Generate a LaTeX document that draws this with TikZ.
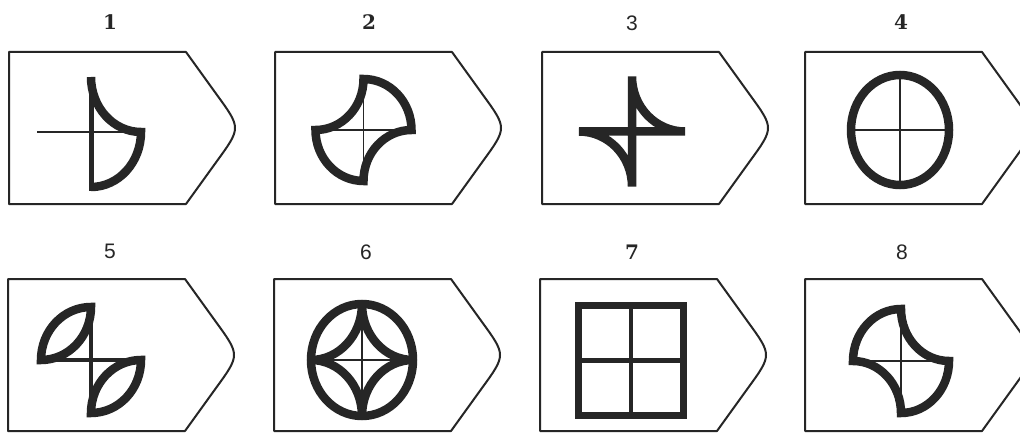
\documentclass[tikz,border=0pt]{standalone}
\usepackage{fontspec}
\setmainfont{DejaVu Serif}
\newfontfamily\sansdigits{Liberation Sans}
\usepackage{tikz}
\usetikzlibrary{calc}
\definecolor{inkgrey}{HTML}{262626}

\begin{document}
\begin{tikzpicture}[
  x=1pt,y=-1pt,
  every node/.style={inner sep=0pt,text=inkgrey},
  tag/.style={draw=inkgrey,line width=2pt,line join=round},
  petal/.style={draw=inkgrey,line width=8.5pt,line join=miter},
  hair/.style={draw=inkgrey,line width=1.8pt},
  crossbar/.style={draw=inkgrey,line width=4.5pt},
  serifno/.style={font=\fontsize{20}{20}\selectfont\bfseries},
  sansno/.style={font=\fontsize{21}{21}\selectfont\sansdigits},
  bulge/.style={start angle=#1,delta angle=90,x radius=\frx,y radius=\fry},
  hollow/.style={start angle=#1-90,delta angle=-90,x radius=\frx,y radius=\fry},
  hollowrev/.style={start angle=#1-180,delta angle=90,x radius=\frx,y radius=\fry}
]
\useasboundingbox[fill=white] (0,0) rectangle (1020,433);
\clip (0,0) rectangle (1020,433);

%% ---- tags ----
\foreach \l/\t in {9/52,275/52,542/52,805/52,8/279,274/279,540/279,805/279}{
  \draw[tag] (\l,\t) -- (\l+177,\t) -- (\l+208,\t+43)
    .. controls (\l+232,\t+76) .. (\l+208,\t+109) -- (\l+177,\t+152)
    -- (\l,\t+152) -- cycle;
}

%% ---- numbers ----
\node[serifno] (n1) at (110,22.5) {1};
\node[serifno] (n2) at (369,22.5) {2};
\node[sansno]  (n3) at (632,23.5) {3};
\node[serifno] (n4) at (901,22.5) {4};
\node[sansno]  (n5) at (110,251.5) {5};
\node[sansno]  (n6) at (366,252) {6};
\node[serifno] (n7) at (632,252) {7};
\node[sansno]  (n8) at (902,252) {8};

%% ---- centres ----
\coordinate (f1) at (91,132);
\coordinate (f2) at (363.5,130);
\coordinate (f3) at (632,131.5);
\coordinate (f4) at (900,130);
\coordinate (f5) at (91,360);
\coordinate (f6) at (362,360);
\coordinate (f7) at (631,360.5);
\coordinate (f8) at (901,361);

%% ---- figure 1 ----
\def\frx{50}\def\fry{55}
\draw[hair] (f1) ++(-54,0) -- ++(104,0);
\draw[crossbar,line width=5pt] (f1) ++(0,-\fry) -- ++(0,2*\fry+4);
\draw[petal] (f1) ++(0,-\fry) arc[hollow=270] arc[bulge=0];

%% ---- figure 2 ----
\def\frx{48}\def\fry{51}
\draw[hair] (f2) ++(-\frx,0) -- ++(2*\frx,0);
\draw[hair] (f2) ++(0,-\fry) -- ++(0,2*\fry);
\draw[petal] (f2) ++(0,-\fry) arc[bulge=270] arc[hollow=0]
  arc[bulge=90] arc[hollow=180] -- cycle;

%% ---- figure 3 ----
\def\frx{53}\def\fry{55}
\draw[petal] (f3) -- ++(0,-\fry) arc[hollow=270] -- cycle;
\draw[petal] (f3) -- ++(0,\fry) arc[hollow=90] -- cycle;

%% ---- figure 4 ----
\draw[hair] (f4) ++(-49,0) -- ++(98,0);
\draw[hair] (f4) ++(0,-55) -- ++(0,110);
\draw[petal] (f4) ellipse[x radius=49,y radius=55];

%% ---- figure 5 ----
\def\frx{50}\def\fry{53}
\draw[crossbar] (f5) ++(-\frx,0) -- ++(2*\frx,0);
\draw[crossbar] (f5) ++(0,-\fry) -- ++(0,2*\fry);
\draw[petal] (f5) ++(-\frx,0) arc[bulge=180] arc[hollowrev=180] -- cycle;
\draw[petal] (f5) ++(\frx,0) arc[bulge=0] arc[hollowrev=0] -- cycle;

%% ---- figure 6 ----
\def\frx{51}\def\fry{56}
\draw[hair] (f6) ++(-\frx,0) -- ++(2*\frx,0);
\draw[hair] (f6) ++(0,-\fry) -- ++(0,2*\fry);
\draw[petal] (f6) ellipse[x radius=\frx,y radius=\fry];
\draw[petal] (f6) ++(0,-\fry) arc[hollow=270] arc[hollow=0]
  arc[hollow=90] arc[hollow=180] -- cycle;

%% ---- figure 7 ----
\draw[crossbar] (f7) ++(-52.5,0) -- ++(105,0);
\draw[crossbar] (f7) ++(0,-55) -- ++(0,110);
\draw[petal,line width=7.5pt] (f7) ++(-52.5,-55) rectangle ++(105,110);

%% ---- figure 8 ----
\def\frx{48}\def\fry{52}
\draw[hair] (f8) ++(-\frx,0) -- ++(2*\frx,0);
\draw[hair] (f8) ++(0,-\fry) -- ++(0,2*\fry);
\draw[petal] (f8) ++(-\frx,0) arc[bulge=180] arc[hollow=270]
  arc[bulge=0] arc[hollow=90] -- cycle;

\end{tikzpicture}
\end{document}
